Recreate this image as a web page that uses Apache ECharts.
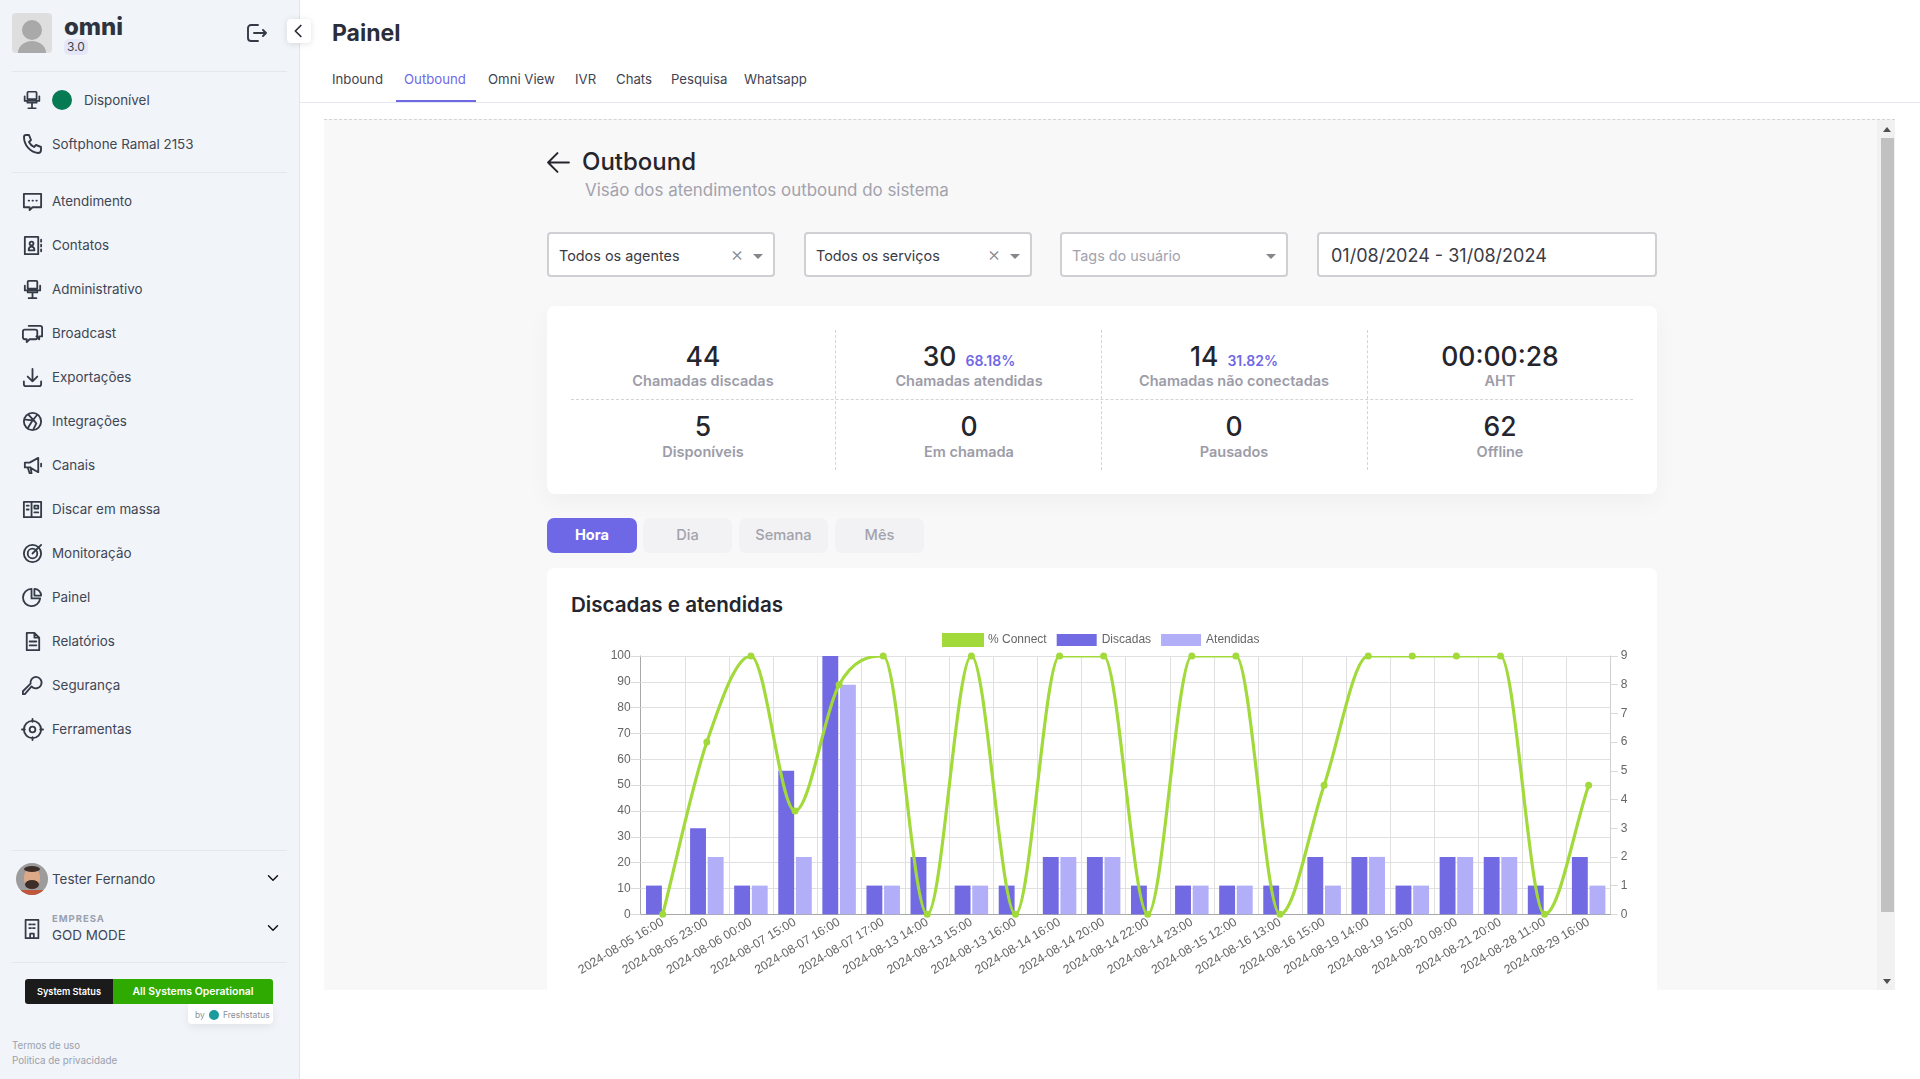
<!DOCTYPE html>
<html lang="pt-BR">

<head>
    <meta charset="UTF-8">
    <title>Painel - Outbound</title>
    <script src="https://cdn.jsdelivr.net/npm/echarts@6/dist/echarts.min.js"></script>
    <style>
        html, body { margin: 0; width: 1920px; height: 1079px; overflow: hidden; background: #fff; font-family: Inter, "Noto Sans", sans-serif; color: #343a46; }
        .a { position: absolute; white-space: nowrap; }
        .mid { transform: translateY(-50%); }
        .cen { transform: translate(-50%, -50%); text-align: center; }
        .menu { font-size: 13.4px; color: #3f4654; }
        .tab { font-size: 13.2px; color: #3f4350; top: 79px; }
        .sel { background: #fff; border: 2px solid #cfcfd4; border-radius: 4px; box-sizing: border-box; top: 232px; height: 45px; }
        .seltxt { font-size: 14.4px; color: #3a3b45; top: 255px; }
        .card { background: #fff; border-radius: 8px; box-shadow: 0 8px 24px rgba(30, 30, 60, .04); }
        .num { font-size: 26.5px; font-weight: 500; color: #24252d; }
        .pct { font-size: 14px; font-weight: 600; color: #6f68e6; margin-left: 2px; }
        .lab { font-size: 14.5px; font-weight: 600; color: #9c9ca8; }
        .btn { top: 518px; height: 35px; line-height: 35px; text-align: center; border-radius: 7px; font-size: 14.6px; font-weight: 500; color: #a2a2ad; background: #f2f2f4; }
        svg.i { position: absolute; fill: none; stroke: #343a46; stroke-width: 1.9; stroke-linecap: round; stroke-linejoin: round; }
    </style>
</head>

<body>
    <!-- barra lateral -->
    <div class="a" id="side" style="left:0;top:0;width:299px;height:1079px;background:#f1f4f9;border-right:1px solid #dfe5ee;"></div>
    <div class="a" style="left:12px;top:13px;width:40px;height:40px;background:#dedede;border-radius:4px;overflow:hidden;">
        <div class="a" style="left:10px;top:7px;width:20px;height:20px;border-radius:50%;background:#a9a9a9;"></div>
        <div class="a" style="left:6px;top:28px;width:28px;height:24px;border-radius:50%;background:#a9a9a9;"></div>
    </div>
    <div class="a mid" style="left:64px;top:26px;font-size:24px;font-weight:800;color:#2e3340;">omni</div>
    <div class="a" style="left:64px;top:39px;width:24px;height:16px;line-height:16px;text-align:center;background:#e5e6f7;border-radius:5px;font-size:12px;color:#444;">3.0</div>
    <div class="a" style="left:287px;top:19px;width:24px;height:24px;background:#fff;border-radius:4px;box-shadow:0 1px 6px rgba(0,0,0,.12);"></div>
    <div class="a" style="left:12px;top:71px;width:275px;height:1px;background:#e3e7ee;"></div>
    <div class="a" style="left:12px;top:172px;width:275px;height:1px;background:#e3e7ee;"></div>
    <div class="a" style="left:52px;top:90px;width:20px;height:20px;border-radius:50%;background:#067a53;"></div>
    <div class="a mid menu" style="left:84px;top:100px;">Disponível</div>
    <div class="a" style="left:12px;top:850px;width:275px;height:1px;background:#e3e7ee;"></div>
    <div class="a" style="left:16px;top:863px;width:32px;height:32px;border-radius:50%;background:#9c9c9c;overflow:hidden;">
        <div class="a" style="left:8px;top:5px;width:16px;height:20px;border-radius:45%;background:#dba888;"></div>
        <div class="a" style="left:9px;top:17px;width:14px;height:9px;border-radius:50%;background:#3d2e28;"></div>
        <div class="a" style="left:8px;top:3px;width:16px;height:6px;border-radius:50%;background:#3d2e28;"></div>
        <div class="a" style="left:5px;top:27px;width:22px;height:8px;background:#c0563c;"></div>
    </div>
    <div class="a mid menu" style="left:52px;top:879px;">Tester Fernando</div>
    <div class="a mid" style="left:52px;top:918px;font-size:9.5px;font-weight:700;letter-spacing:1px;color:#9aa1ae;">EMPRESA</div>
    <div class="a mid menu" style="left:52px;top:935px;">GOD MODE</div>
    <div class="a" style="left:12px;top:962px;width:275px;height:1px;background:#e3e7ee;"></div>
    <div class="a" style="left:25px;top:979px;width:88px;height:25px;line-height:25px;text-align:center;background:#1b1b1b;border-radius:3px 0 0 3px;color:#fff;font-size:9.2px;font-weight:600;">System Status</div>
    <div class="a" style="left:113px;top:979px;width:160px;height:25px;line-height:25px;text-align:center;background:#2eaa00;border-radius:0 3px 0 0;color:#fff;font-size:10.5px;font-weight:600;">All Systems Operational</div>
    <div class="a" style="left:188px;top:1004px;width:85px;height:20px;background:#fff;border-radius:0 0 4px 4px;box-shadow:0 3px 8px rgba(0,0,0,.07);"></div>
    <div class="a mid" style="left:195px;top:1015px;font-size:8.5px;color:#8a8f98;">by</div>
    <div class="a" style="left:209px;top:1010px;width:10px;height:10px;border-radius:50%;background:#1c9a9c;"></div>
    <div class="a mid" style="left:223px;top:1015px;font-size:8.5px;color:#8a8f98;">Freshstatus</div>
    <div class="a mid" style="left:12px;top:1045px;font-size:9.7px;color:#9ba1ab;">Termos de uso</div>
    <div class="a mid" style="left:12px;top:1060px;font-size:9.8px;color:#9ba1ab;">Politica de privacidade</div>

    <!-- topo -->
    <div class="a mid" style="left:332px;top:33px;font-size:23px;font-weight:700;color:#2b2e38;">Painel</div>
    <div id="tabs"></div>
    <div class="a" style="left:300px;top:102px;width:1620px;height:1px;background:#e5e8ee;"></div>
    <div class="a" style="left:396px;top:100px;width:80px;height:2px;background:#6f68e6;"></div>

    <!-- area cinza -->
    <div class="a" style="left:324px;top:119px;width:1571px;height:871px;background:#f8f8f8;border-top:1px dashed #d4d4d8;box-sizing:border-box;overflow:hidden;">
    </div>
    <div class="a mid" style="left:582px;top:161px;font-size:24px;font-weight:500;color:#24252d;">Outbound</div>
    <div class="a mid" style="left:585px;top:190px;font-size:16.9px;color:#a2a2ad;">Visão dos atendimentos outbound do sistema</div>

    <div class="a sel" style="left:547px;width:228px;"></div>
    <div class="a mid seltxt" style="left:559px;">Todos os agentes</div>
    <div class="a cen" style="left:737px;top:254px;font-size:20px;font-weight:300;color:#8a8a92;">×</div>
    <div class="a" style="left:753px;top:254px;border:5px solid transparent;border-top:5px solid #85858c;"></div>
    <div class="a sel" style="left:804px;width:228px;"></div>
    <div class="a mid seltxt" style="left:816px;">Todos os serviços</div>
    <div class="a cen" style="left:994px;top:254px;font-size:20px;font-weight:300;color:#8a8a92;">×</div>
    <div class="a" style="left:1010px;top:254px;border:5px solid transparent;border-top:5px solid #85858c;"></div>
    <div class="a sel" style="left:1060px;width:228px;"></div>
    <div class="a mid seltxt" style="left:1072px;color:#a2a2ad;">Tags do usuário</div>
    <div class="a" style="left:1266px;top:254px;border:5px solid transparent;border-top:5px solid #85858c;"></div>
    <div class="a sel" style="left:1317px;width:340px;"></div>
    <div class="a mid seltxt" style="left:1331px;font-size:18px;">01/08/2024 - 31/08/2024</div>

    <!-- indicadores -->
    <div class="a card" style="left:547px;top:306px;width:1110px;height:188px;"></div>
    <div class="a" style="left:835px;top:330px;height:140px;border-left:1px dashed #d4d4d8;"></div>
    <div class="a" style="left:1101px;top:330px;height:140px;border-left:1px dashed #d4d4d8;"></div>
    <div class="a" style="left:1367px;top:330px;height:140px;border-left:1px dashed #d4d4d8;"></div>
    <div class="a" style="left:571px;top:399px;width:1062px;border-top:1px dashed #d4d4d8;"></div>
    <div id="stats"></div>

    <div class="a btn" style="left:547px;width:90px;background:#6f68e6;color:#fff;font-weight:700;">Hora</div>
    <div class="a btn" style="left:643px;width:89px;">Dia</div>
    <div class="a btn" style="left:739px;width:89px;">Semana</div>
    <div class="a btn" style="left:835px;width:89px;">Mês</div>

    <!-- grafico -->
    <div class="a" style="left:547px;top:568px;width:1110px;height:422px;background:#fff;border-radius:8px 8px 0 0;"></div>
    <div class="a mid" style="left:571px;top:604px;font-size:20.6px;font-weight:600;color:#24252d;">Discadas e atendidas</div>
    <div class="a" id="app" style="left:547px;top:620px;width:1110px;height:370px;"></div>

    <!-- barra de rolagem -->
    <div class="a" style="left:1877px;top:120px;width:18px;height:870px;background:#f1f1f1;"></div>
    <div class="a" style="left:1881px;top:138px;width:13px;height:774px;background:#c1c1c1;"></div>
    <div class="a" style="left:1883px;top:123px;border:4px solid transparent;border-bottom:5px solid #505050;"></div>
    <div class="a" style="left:1883px;top:979px;border:4px solid transparent;border-top:5px solid #505050;"></div>

    <script>
        var categories = ['2024-08-05 16:00', '2024-08-05 23:00', '2024-08-06 00:00', '2024-08-07 15:00', '2024-08-07 16:00', '2024-08-07 17:00', '2024-08-13 14:00', '2024-08-13 15:00', '2024-08-13 16:00', '2024-08-14 16:00', '2024-08-14 20:00', '2024-08-14 22:00', '2024-08-14 23:00', '2024-08-15 12:00', '2024-08-16 13:00', '2024-08-16 15:00', '2024-08-19 14:00', '2024-08-19 15:00', '2024-08-20 09:00', '2024-08-21 20:00', '2024-08-28 11:00', '2024-08-29 16:00'];
        var connect = [0, 66.67, 100, 40, 88.89, 100, 0, 100, 0, 100, 100, 0, 100, 100, 0, 50, 100, 100, 100, 100, 0, 50];
        var discadas = [1, 3, 1, 5, 9, 1, 2, 1, 1, 2, 2, 1, 1, 1, 1, 2, 2, 1, 2, 2, 1, 2];
        var atendidas = [0, 2, 1, 2, 8, 1, 0, 1, 0, 2, 2, 0, 1, 1, 0, 1, 2, 1, 2, 2, 0, 1];

        var menuItems = ['Atendimento', 'Contatos', 'Administrativo', 'Broadcast', 'Exportações', 'Integrações', 'Canais', 'Discar em massa', 'Monitoração', 'Painel', 'Relatórios', 'Segurança', 'Ferramentas'];
        var tabNames = ['Inbound', 'Outbound', 'Omni View', 'IVR', 'Chats', 'Pesquisa', 'Whatsapp'];
        var tabLeft = [332, 404, 488, 575, 616, 671, 744];
        var statNums = ['44', '30', '14', '00:00:28', '5', '0', '0', '62'];
        var statPct = ['', '68.18%', '31.82%', '', '', '', '', ''];
        var statLabels = ['Chamadas discadas', 'Chamadas atendidas', 'Chamadas não conectadas', 'AHT', 'Disponíveis', 'Em chamada', 'Pausados', 'Offline'];

        // icones simples, 24x24
        var icons = {
            chair: '<path d="M8 3h8a1 1 0 0 1 1 1v7H7V4a1 1 0 0 1 1-1zM4 8v5h16V8M7 13v2h10v-2M12 15v5M8 21h8"/>',
            phone: '<path d="M6 3l3 0 2 5-2 2c1 2 3 4 5 5l2-2 5 2v3c0 2-1 3-3 3C10 20 4 13 4 5c0-1 1-2 2-2z"/>',
            chat: '<path d="M3 4h18v14H12l-3 3v-3H3zM8 11h.5M12 11h.5M16 11h.5"/>',
            contact: '<path d="M4 3h14v18H4zM21 6v2M21 11v2M21 16v2M8 17c0-5 6-5 6 0zM11 8a2 2 0 1 1 0 4 2 2 0 0 1 0-4z"/>',
            chats: '<path d="M8 4h12a2 2 0 0 1 2 2v9h-3v3l-3-3M4 8h11a2 2 0 0 1 2 2v6a2 2 0 0 1-2 2H9l-3 3v-3H4a2 2 0 0 1-2-2v-6a2 2 0 0 1 2-2z"/>',
            down: '<path d="M12 3v13M7 11l5 5 5-5M3 16v3a2 2 0 0 0 2 2h14a2 2 0 0 0 2-2v-3"/>',
            integ: '<circle cx="12" cy="12" r="9"/><path d="M8 5l8 9-3 6M5 10l9 1M17 5l-5 6-5 8"/>',
            mega: '<path d="M4 9h5l9-5v15l-9-5H4zM7 14l2 6h2l-1-6M21 10v3"/>',
            book: '<path d="M3 4h8v16H3zM11 4h10v16H11zM6 8h2M6 12h2M14 8h4v3h-4zM14 15h4"/>',
            target: '<circle cx="12" cy="12" r="9"/><circle cx="12" cy="12" r="5"/><path d="M12 12l9-9"/>',
            pie: '<path d="M11 3a9 9 0 1 0 9 10h-9zM14 3a7 7 0 0 1 7 7h-7z"/>',
            doc: '<path d="M6 3h8l5 5v13H6zM14 3v5h5M9 12h7M9 16h7"/>',
            key: '<path d="M15 3a6 6 0 1 1-4 10l-7 8H2v-3l8-8a6 6 0 0 1 5-7z"/>',
            gear: '<circle cx="12" cy="12" r="3"/><circle cx="12" cy="12" r="9"/><path d="M12 1v3M12 20v3M1 12h3M20 12h3"/>',
            logout: '<path d="M14 4H7a3 3 0 0 0-3 3v10a3 3 0 0 0 3 3h7M10 12h12M19 9l3 3-3 3"/>',
            build: '<path d="M5 2h14v20H5zM9 7h2M13 7h2M9 11h2M13 11h2M10 22v-5h4v5"/>',
            left: '<path d="M14 6l-6 6 6 6"/>',
            chev: '<path d="M6 9l6 6 6-6"/>',
            back: '<path d="M22 12H2M11 3l-9 9 9 9"/>'
        };
        var menuIcons = ['chat', 'contact', 'chair', 'chats', 'down', 'integ', 'mega', 'book', 'target', 'pie', 'doc', 'key', 'gear'];

        function addIcon(name, cx, cy, size, color) {
            document.body.insertAdjacentHTML('beforeend', '<svg class="i" viewBox="0 0 24 24" width="' + size + '" height="' + size + '" style="left:' + (cx - size / 2) + 'px;top:' + (cy - size / 2) + 'px;' + (color ? 'stroke:' + color + ';' : '') + '">' + icons[name] + '</svg>');
        }

        var html = '';
        for (var i = 0; i < menuItems.length; i++) {
            html += '<div class="a mid menu" style="left:52px;top:' + (200.5 + i * 44) + 'px;">' + menuItems[i] + '</div>';
        }
        html += '<div class="a mid menu" style="left:52px;top:143.5px;">Softphone Ramal 2153</div>';
        document.getElementById('side').innerHTML = html;

        html = '';
        for (var i = 0; i < tabNames.length; i++) {
            html += '<div class="a mid tab" style="left:' + tabLeft[i] + 'px;' + (i == 1 ? 'color:#6f68e6;' : '') + '">' + tabNames[i] + '</div>';
        }
        document.getElementById('tabs').innerHTML = html;

        var colX = [703, 969, 1234, 1500];
        html = '';
        for (var i = 0; i < statNums.length; i++) {
            var row = i < 4 ? 0 : 1;
            var x = colX[i % 4];
            var pct = statPct[i] ? ' <span class="pct">' + statPct[i] + '</span>' : '';
            html += '<div class="a cen num" style="left:' + x + 'px;top:' + (356 + row * 70) + 'px;">' + statNums[i] + pct + '</div>';
            html += '<div class="a cen lab" style="left:' + x + 'px;top:' + (380 + row * 71) + 'px;">' + statLabels[i] + '</div>';
        }
        document.getElementById('stats').innerHTML = html;

        addIcon('chair', 32, 100, 22);
        addIcon('phone', 32, 144, 24);
        for (var i = 0; i < menuIcons.length; i++) {
            addIcon(menuIcons[i], 32, 201 + i * 44, 23);
        }
        addIcon('logout', 256, 33, 24);
        addIcon('left', 299, 31, 22, '#2b2e38');
        addIcon('build', 32, 929, 22);
        addIcon('chev', 273, 878, 18, '#111');
        addIcon('chev', 273, 928, 18, '#111');
        addIcon('back', 558, 162, 25, '#24252d');

        // tangentes da curva monotona (valor por categoria)
        function monotoneSlopes(v) {
            var n = v.length, d = [], m = [];
            for (var i = 0; i < n - 1; i++) d.push(v[i + 1] - v[i]);
            for (var i = 0; i < n; i++) {
                if (i == 0) m.push(d[0]);
                else if (i == n - 1) m.push(d[n - 2]);
                else m.push(d[i - 1] * d[i] <= 0 ? 0 : (d[i - 1] + d[i]) / 2);
            }
            for (var i = 0; i < n - 1; i++) {
                if (d[i] == 0) { m[i] = 0; m[i + 1] = 0; continue; }
                var a = m[i] / d[i], b = m[i + 1] / d[i], s = a * a + b * b;
                if (s > 9) {
                    var t = 3 / Math.sqrt(s);
                    m[i] = a * t * d[i];
                    m[i + 1] = b * t * d[i];
                }
            }
            return m;
        }
        var slopes = monotoneSlopes(connect);

        function renderConnect(params, api) {
            var i = params.dataIndex;
            if (i >= connect.length - 1) return null;
            var p0 = api.coord([i, connect[i]]);
            var p1 = api.coord([i + 1, connect[i + 1]]);
            var c0 = api.coord([i, connect[i] + slopes[i] / 3]);
            var c1 = api.coord([i + 1, connect[i + 1] - slopes[i + 1] / 3]);
            var dx = (p1[0] - p0[0]) / 3;
            return {
                type: 'bezierCurve',
                shape: { x1: p0[0], y1: p0[1], x2: p1[0], y2: p1[1], cpx1: p0[0] + dx, cpy1: c0[1], cpx2: p1[0] - dx, cpy2: c1[1] },
                style: { stroke: '#a2d93b', fill: null, lineWidth: 3.2, lineCap: 'round' }
            };
        }

        var myChart = echarts.init(document.getElementById('app'));
        var option = {
            animation: false,
            textStyle: { fontFamily: '"Liberation Sans", Arial, sans-serif' },
            legend: {
                top: 13,
                left: 395,
                padding: 0,
                itemWidth: 40,
                itemHeight: 12,
                itemGap: 10,
                textStyle: { color: '#666', fontSize: 12 },
                data: [
                    { name: '% Connect', icon: 'rect', itemStyle: { borderColor: '#a2d93b', borderWidth: 2 } },
                    { name: 'Discadas', icon: 'rect' },
                    { name: 'Atendidas', icon: 'rect' }
                ]
            },
            grid: { left: 93.7, top: 36, width: 970, height: 258.3 },
            xAxis: {
                type: 'category',
                data: categories,
                boundaryGap: true,
                axisLine: { lineStyle: { color: '#a8a8a8' } },
                axisTick: { length: 10, lineStyle: { color: '#d9d9d9' } },
                splitLine: { show: true, interval: 0, lineStyle: { color: '#e0e0e0' } },
                axisLabel: { interval: 0, rotate: 31, margin: 7, color: '#666', fontSize: 12.3 }
            },
            yAxis: [{
                type: 'value',
                min: 0,
                max: 100,
                interval: 10,
                axisLine: { show: true, lineStyle: { color: '#a8a8a8' } },
                axisTick: { show: true, length: 10, lineStyle: { color: '#d9d9d9' } },
                splitLine: { show: true, lineStyle: { color: '#e0e0e0' } },
                axisLabel: { margin: 10, color: '#666', fontSize: 12 }
            }, {
                type: 'value',
                position: 'right',
                min: 0,
                max: 9,
                interval: 1,
                axisLine: { show: true, lineStyle: { color: '#d0d0d0' } },
                axisTick: { show: true, length: 7, lineStyle: { color: '#d9d9d9' } },
                splitLine: { show: false },
                axisLabel: { margin: 10, color: '#666', fontSize: 12 }
            }],
            series: [{
                // so os pontos, a curva vem da serie custom
                name: '% Connect',
                type: 'line',
                yAxisIndex: 0,
                data: connect,
                z: 5,
                symbol: 'circle',
                symbolSize: 7,
                showAllSymbol: true,
                clip: false,
                itemStyle: { color: '#a2d93b' },
                lineStyle: { width: 0, opacity: 0 }
            }, {
                name: '% Connect',
                type: 'custom',
                yAxisIndex: 0,
                z: 4,
                clip: true,
                data: connect.map(function (v, i) { return [i, v]; }),
                encode: { x: 0, y: 1 },
                renderItem: renderConnect
            }, {
                name: 'Discadas',
                type: 'bar',
                yAxisIndex: 1,
                data: discadas,
                barCategoryGap: '24%',
                barGap: '11%',
                itemStyle: { color: '#716ae3' }
            }, {
                name: 'Atendidas',
                type: 'bar',
                yAxisIndex: 1,
                data: atendidas,
                barCategoryGap: '24%',
                barGap: '11%',
                itemStyle: { color: '#b2aef8' }
            }]
        };
        myChart.setOption(option);
    </script>
</body>

</html>
